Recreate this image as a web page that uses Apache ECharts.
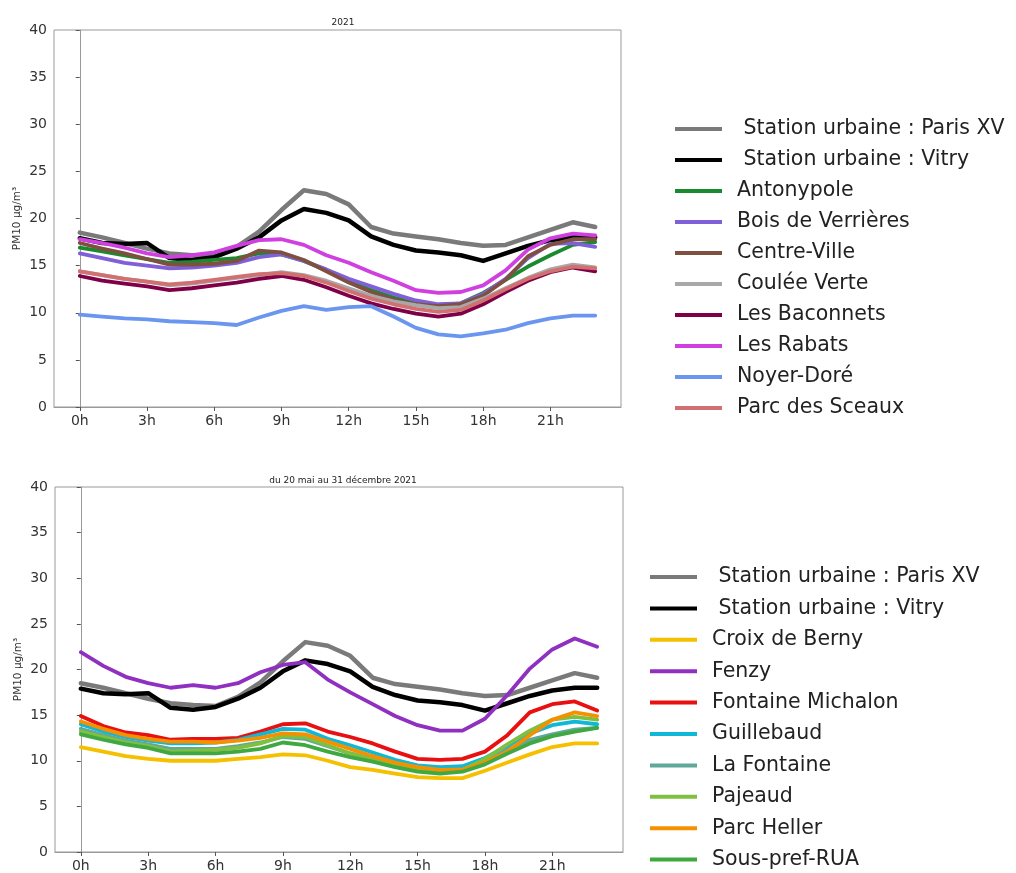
<!DOCTYPE html>
<html><head><meta charset="utf-8">
<script src="https://cdn.jsdelivr.net/npm/echarts@6/dist/echarts.min.js"></script>
<style>html,body{margin:0;padding:0;background:#fff}#c{width:1016px;height:873px}</style>
</head><body><div id="c"></div>
<script>
const hours = [0,1,2,3,4,5,6,7,8,9,10,11,12,13,14,15,16,17,18,19,20,21,22,23];
const tickHours = [0,3,6,9,12,15,18,21];
const yTicks = [0,5,10,15,20,25,30,35,40];
const title1 = "2021";
const title2 = "du 20 mai au 31 décembre 2021";
const yName = "PM10 µg/m³";

// Chart 1 (2021)
const names1 = [" Station urbaine : Paris XV"," Station urbaine : Vitry","Antonypole","Bois de Verrières","Centre-Ville","Coulée Verte","Les Baconnets","Les Rabats","Noyer-Doré","Parc des Sceaux"];
const colors1 = ["#7a7a7a","#000000","#1a8a2e","#8060d8","#7f5040","#a8a8a8","#800048","#d040e0","#6a96f0","#d07070"];
const parisXV = [18.5,18.0,17.4,16.8,16.3,16.1,16.0,17.0,18.6,20.9,23.0,22.6,21.5,19.1,18.4,18.1,17.8,17.4,17.1,17.2,18.0,18.8,19.6,19.1];
const vitry   = [17.9,17.4,17.3,17.4,15.8,15.6,15.9,16.8,18.0,19.8,21.0,20.6,19.8,18.1,17.2,16.6,16.4,16.1,15.5,16.3,17.1,17.7,18.0,18.0];
const antonypole = [16.9,16.5,16.1,15.7,15.3,15.4,15.6,15.8,16.3,16.2,15.5,14.5,13.4,12.4,11.6,11.1,10.8,11.0,12.1,13.5,14.9,16.1,17.2,17.5];
const boisVerrieres = [16.3,15.8,15.3,15.0,14.7,14.8,15.0,15.3,15.9,16.2,15.5,14.6,13.6,12.8,12.0,11.3,10.9,11.0,12.0,13.6,15.8,17.3,17.4,17.0];
const centreVille = [17.4,16.8,16.3,15.7,15.1,15.1,15.2,15.5,16.6,16.4,15.6,14.4,13.2,12.2,11.4,10.9,10.7,10.9,11.8,13.5,16.0,17.2,17.8,17.8];
const couleeVerte = [14.4,14.0,13.6,13.3,12.9,13.1,13.4,13.7,14.0,14.3,14.0,13.4,12.6,11.8,11.2,10.8,10.5,10.6,11.5,12.6,13.7,14.6,15.1,14.8];
const baconnets = [13.9,13.4,13.1,12.8,12.4,12.6,12.9,13.2,13.6,13.9,13.5,12.7,11.8,11.0,10.4,9.9,9.6,9.9,10.9,12.2,13.4,14.3,14.8,14.4];
const rabats = [17.8,17.4,16.9,16.3,15.9,16.1,16.4,17.1,17.7,17.8,17.2,16.1,15.3,14.3,13.4,12.4,12.1,12.2,12.9,14.5,16.7,17.9,18.4,18.2];
const noyerDore = [9.8,9.6,9.4,9.3,9.1,9.0,8.9,8.7,9.5,10.2,10.7,10.3,10.6,10.7,9.6,8.4,7.7,7.5,7.8,8.2,8.9,9.4,9.7,9.7];
const parcSceaux = [14.4,14.0,13.6,13.3,13.0,13.2,13.5,13.8,14.1,14.2,13.9,13.2,12.3,11.5,10.9,10.4,10.1,10.3,11.3,12.5,13.6,14.4,14.9,14.7];
const values1 = [parisXV,vitry,antonypole,boisVerrieres,centreVille,couleeVerte,baconnets,rabats,noyerDore,parcSceaux];

// Chart 2 (20 mai - 31 décembre 2021)
const names2 = [" Station urbaine : Paris XV"," Station urbaine : Vitry","Croix de Berny","Fenzy","Fontaine Michalon","Guillebaud","La Fontaine","Pajeaud","Parc Heller","Sous-pref-RUA"];
const colors2 = ["#7a7a7a","#000000","#f5c000","#9030c0","#e81010","#10b8d8","#60a898","#80c040","#f59000","#40a840"];
const croixBerny = [11.5,11.0,10.5,10.2,10.0,10.0,10.0,10.2,10.4,10.7,10.6,10.0,9.3,9.0,8.6,8.2,8.1,8.1,8.9,9.8,10.7,11.5,11.9,11.9];
const fenzy = [21.9,20.4,19.2,18.5,18.0,18.3,18.0,18.5,19.7,20.5,20.8,18.9,17.5,16.2,14.9,13.9,13.3,13.3,14.6,17.2,20.1,22.2,23.4,22.5];
const fontaineMichalon = [14.9,13.8,13.1,12.8,12.3,12.4,12.4,12.5,13.2,14.0,14.1,13.2,12.6,11.9,11.0,10.2,10.1,10.2,11.0,12.8,15.3,16.2,16.5,15.5];
const guillebaud = [14.0,13.2,12.6,12.2,11.9,11.9,12.0,12.3,12.9,13.5,13.4,12.4,11.7,10.9,10.1,9.5,9.3,9.4,10.3,11.6,13.0,13.9,14.3,14.0];
const laFontaine = [13.5,12.8,12.2,11.8,11.3,11.3,11.3,11.6,12.0,12.6,12.4,11.6,10.8,10.2,9.6,9.2,9.0,9.1,10.0,11.2,12.3,12.9,13.4,13.6];
const pajeaud = [13.2,12.6,12.0,11.6,11.0,11.1,11.2,11.4,11.9,12.7,12.6,11.7,10.8,10.1,9.5,9.0,8.8,9.0,10.2,11.8,13.3,14.5,14.8,14.5];
const parcHeller = [14.3,13.5,12.8,12.4,12.1,12.1,12.0,12.2,12.5,13.0,12.9,12.1,11.3,10.5,9.8,9.3,9.0,9.0,9.8,11.0,12.8,14.5,15.3,14.9];
const sousPref = [12.9,12.3,11.8,11.4,10.8,10.8,10.8,11.0,11.3,12.0,11.7,11.0,10.4,9.9,9.3,8.8,8.6,8.8,9.6,10.8,11.9,12.7,13.2,13.6];
const values2 = [parisXV,vitry,croixBerny,fenzy,fontaineMichalon,guillebaud,laFontaine,pajeaud,parcHeller,sousPref];

const FONT = "DejaVu Sans";
function xAxis(gi){
  return {type:'value', gridIndex:gi, min:-1.15, max:24.15,
    axisLine:{show:true, onZero:false, lineStyle:{color:'#999', width:1}},
    splitLine:{show:false},
    axisTick:{show:true, customValues:tickHours, length:4, lineStyle:{color:'#555'}},
    axisLabel:{customValues:tickHours, formatter:v=>v+'h', fontFamily:FONT, fontSize:14, color:'#333', margin:7}};
}
function yAxis(gi){
  return {type:'value', gridIndex:gi, min:0, max:40, interval:5,
    name:yName, nameLocation:'middle', nameGap:31, nameRotate:90, nameMoveOverlap:false,
    nameTextStyle:{fontFamily:FONT, fontSize:10.5, color:'#333'},
    axisLine:{show:true, lineStyle:{color:'#999', width:1}},
    splitLine:{show:false},
    axisTick:{show:true, length:4, lineStyle:{color:'#555'}},
    axisLabel:{fontFamily:FONT, fontSize:14, color:'#333', margin:7,
      customValues:yTicks}};
}
const series = [];
function addSeries(names, colors, values, gi){
  names.forEach((n,i)=>{
    const wide = i<2;
    series.push({type:'line', name:n, xAxisIndex:gi, yAxisIndex:gi,
      data: hours.map((h,k)=>[h, values[i][k]]),
      showSymbol:false, symbol:'none', silent:true, animation:false,
      lineStyle:{color:colors[i], width: wide?4.5:3.8, cap:'round', join:'round'},
      itemStyle:{color:colors[i]}});
  });
}
addSeries(names1, colors1, values1, 0);
addSeries(names2, colors2, values2, 1);

function legend(names, left, top, gap){
  return {orient:'vertical', left:left, top:top, height:330, padding:0, data:names, icon:'rect',
    itemWidth:47, itemHeight:4, itemGap:gap, selectedMode:false,
    textStyle:{fontFamily:FONT, fontSize:20.5, color:'#222', lineHeight:22, padding:[0,0,0,10]}};
}

const chart = echarts.init(document.getElementById('c'), null, {renderer:'canvas'});
chart.setOption({
  animation:false,
  backgroundColor:'#fff',
  title:[
    {text:title1, left:338, top:13, textAlign:'center', textStyle:{fontFamily:FONT, fontSize:9, fontWeight:'normal', color:'#222'}},
    {text:title2, left:338, top:471, textAlign:'center', textStyle:{fontFamily:FONT, fontSize:9, fontWeight:'normal', color:'#222'}}
  ],
  grid:[
    {left:54, top:30, width:567, height:377, show:true, borderColor:'#999', borderWidth:1, containLabel:false},
    {left:55, top:487, width:568, height:375, show:true, borderColor:'#999', borderWidth:1, containLabel:false}
  ],
  xAxis:[xAxis(0), xAxis(1)],
  yAxis:[yAxis(0), yAxis(1)],
  legend:[legend(names1, 675, 118, 9), legend(names2, 650, 566, 9.4)],
  series: series
});
</script></body></html>
